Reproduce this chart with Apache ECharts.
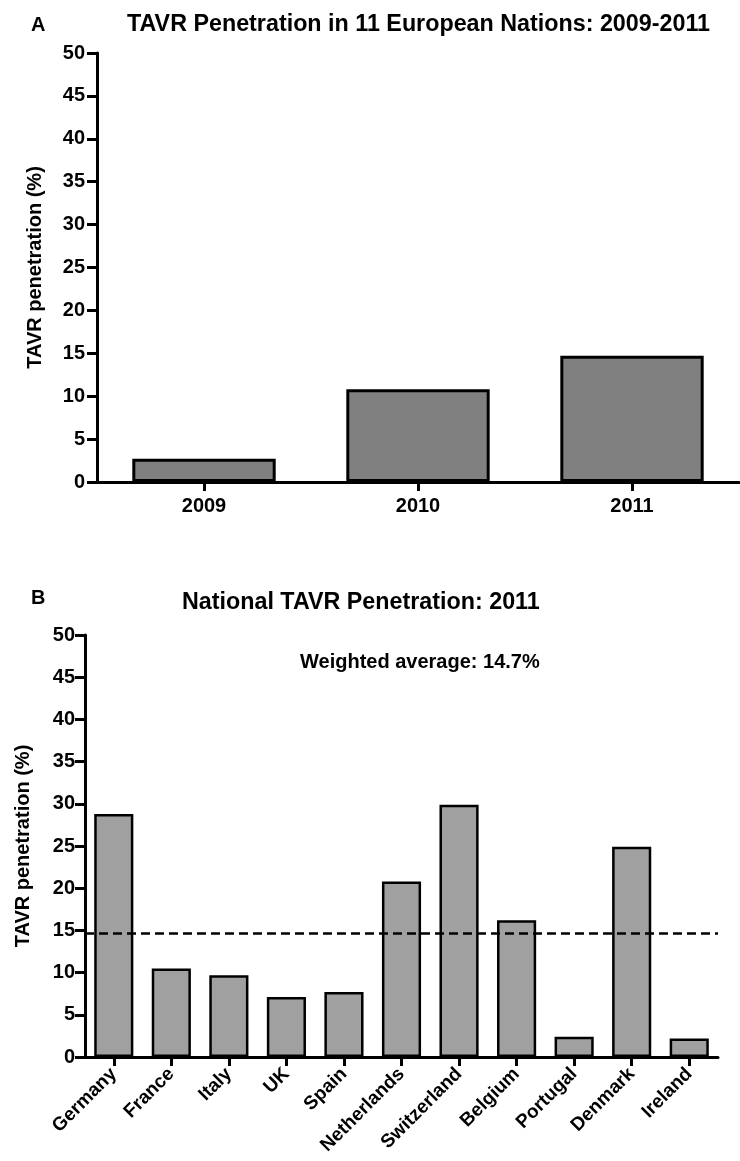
<!DOCTYPE html>
<html>
<head>
<meta charset="utf-8">
<title>TAVR Penetration</title>
<script src="https://cdn.jsdelivr.net/npm/echarts@6/dist/echarts.min.js"></script>
<style>
  html, body { margin: 0; padding: 0; background: #ffffff; }
  #chart { width: 740px; height: 1161px; }
</style>
</head>
<body>
<div id="chart"></div>
<script>
// Panel A: pooled penetration by year
const years = ['2009', '2010', '2011'];
const yearValues = [2.7, 10.8, 14.7];

// Panel B: penetration by country in 2011
const countries = ['Germany', 'France', 'Italy', 'UK', 'Spain', 'Netherlands',
  'Switzerland', 'Belgium', 'Portugal', 'Denmark', 'Ireland'];
const countryValues = [28.8, 10.5, 9.7, 7.1, 7.7, 20.8, 29.9, 16.2, 2.4, 24.9, 2.2];
const weightedAverage = 14.7;

// Shared y scale
const yMin = 0;
const yMax = 50;
const yStep = 5;

const FONT = '"Liberation Sans", Arial, Helvetica, sans-serif';

function valueAxis(gridIndex, labelMargin) {
  return {
    type: 'value',
    gridIndex: gridIndex,
    min: yMin,
    max: yMax,
    interval: yStep,
    name: 'TAVR penetration (%)',
    nameLocation: 'middle',
    nameGap: 52,
    nameTextStyle: { fontFamily: FONT, fontWeight: 'bold', fontSize: 20, color: '#000' },
    axisLine: { show: true, lineStyle: { color: '#000', width: 3 } },
    axisTick: { show: true, length: 10, lineStyle: { color: '#000', width: 3 } },
    axisLabel: { fontFamily: FONT, fontWeight: 'bold', fontSize: 20, color: '#000', margin: labelMargin },
    splitLine: { show: false }
  };
}

const chart = echarts.init(document.getElementById('chart'), null, { renderer: 'canvas' });

chart.setOption({
  backgroundColor: '#ffffff',
  animation: false,
  title: [
    { text: 'A', left: 31, top: 15, padding: 0,
      textStyle: { fontFamily: FONT, fontWeight: 'bold', fontSize: 20, color: '#000' } },
    { text: 'TAVR Penetration in 11 European Nations: 2009-2011', left: 127, top: 13, padding: 0,
      textStyle: { fontFamily: FONT, fontWeight: 'bold', fontSize: 23.3, color: '#000' } },
    { text: 'B', left: 31, top: 588, padding: 0,
      textStyle: { fontFamily: FONT, fontWeight: 'bold', fontSize: 20, color: '#000' } },
    { text: 'National TAVR Penetration: 2011', left: 182, top: 591, padding: 0,
      textStyle: { fontFamily: FONT, fontWeight: 'bold', fontSize: 23.3, color: '#000' } },
    { text: 'Weighted average: ' + weightedAverage + '%', left: 300, top: 652, padding: 0,
      textStyle: { fontFamily: FONT, fontWeight: 'bold', fontSize: 20, color: '#000' } }
  ],
  grid: [
    { left: 97, top: 53, width: 642, height: 429, containLabel: false },
    { left: 85, top: 635, width: 633, height: 422, containLabel: false }
  ],
  xAxis: [
    {
      type: 'category',
      gridIndex: 0,
      data: years,
      axisLine: { show: true, lineStyle: { color: '#000', width: 3 } },
      axisTick: { show: true, alignWithLabel: true, length: 9, lineStyle: { color: '#000', width: 3 } },
      axisLabel: { fontFamily: FONT, fontWeight: 'bold', fontSize: 20, color: '#000', margin: 14 },
      splitLine: { show: false }
    },
    {
      type: 'category',
      gridIndex: 1,
      data: countries,
      axisLine: { show: true, lineStyle: { color: '#000', width: 3 } },
      axisTick: { show: true, alignWithLabel: true, length: 9, lineStyle: { color: '#000', width: 3 } },
      axisLabel: { fontFamily: FONT, fontWeight: 'bold', fontSize: 19, color: '#000',
        rotate: 45, interval: 0, margin: 14 },
      splitLine: { show: false }
    }
  ],
  yAxis: [valueAxis(0, 12), valueAxis(1, 10)],
  series: [
    {
      type: 'bar',
      xAxisIndex: 0,
      yAxisIndex: 0,
      data: yearValues,
      barWidth: '67%',
      itemStyle: { color: '#808080', borderColor: '#000', borderWidth: 3 }
    },
    {
      type: 'bar',
      xAxisIndex: 1,
      yAxisIndex: 1,
      data: countryValues,
      barWidth: '68%',
      itemStyle: { color: '#a0a0a0', borderColor: '#000', borderWidth: 2.5 },
      markLine: {
        silent: true,
        symbol: 'none',
        label: { show: false },
        lineStyle: { color: '#000', width: 2.5, type: [9, 5] },
        data: [{ yAxis: weightedAverage }]
      }
    }
  ]
});
</script>
</body>
</html>
